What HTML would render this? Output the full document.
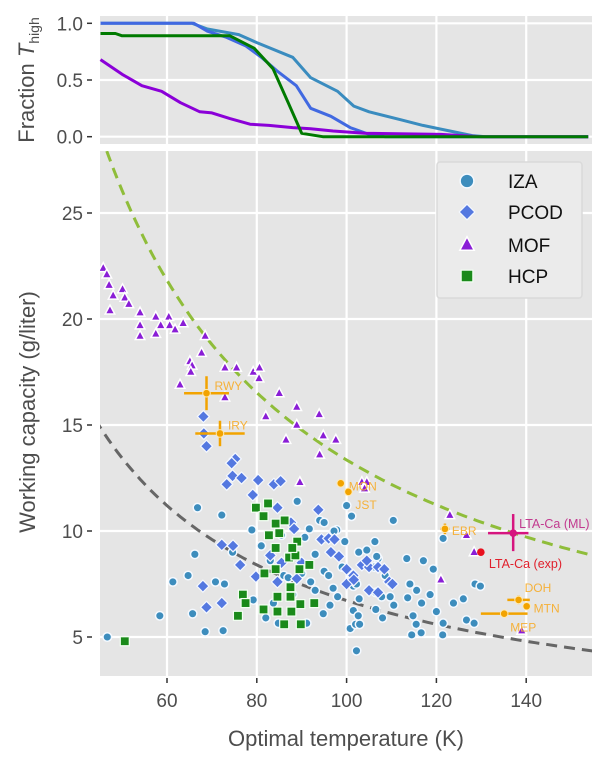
<!DOCTYPE html>
<html><head><meta charset="utf-8"><style>
html,body{margin:0;padding:0;background:#fff}
svg{display:block;font-family:"Liberation Sans",sans-serif}
</style></head><body>
<svg id="chart" width="600" height="761" viewBox="0 0 600 761" xmlns="http://www.w3.org/2000/svg">
<g id="topPanel"></g>
<g id="mainPanel"></g>
</svg>
<script>
// ---- data ----
const xTicks = [60, 80, 100, 120, 140];
const yTicksTop = [0, 0.5, 1.0];
const yTickLabelsTop = ["0.0", "0.5", "1.0"];
const yTicksMain = [5, 10, 15, 20, 25];
// top panel series: temperatures and fraction values
const izaLineT = [45.2, 65.6, 69, 76, 80, 88, 92, 98, 101.6, 105, 112, 117, 123, 128, 131, 153.8];
const izaLineF = [1.0, 1.0, 0.95, 0.9, 0.83, 0.7, 0.52, 0.4, 0.27, 0.22, 0.15, 0.1, 0.05, 0.01, 0, 0];
const pcodLineT = [45.2, 66, 69, 73, 77.6, 81, 84.5, 88.8, 92, 96.5, 100.8, 105, 108.5, 153.8];
const pcodLineF = [1.0, 1.0, 0.93, 0.88, 0.8, 0.7, 0.58, 0.45, 0.25, 0.18, 0.08, 0.02, 0, 0];
const hcpLineT = [45.2, 48.5, 50, 74, 79.4, 83.6, 87, 90, 94.7, 153.8];
const hcpLineF = [0.91, 0.91, 0.89, 0.89, 0.78, 0.6, 0.3, 0.03, 0, 0];
const mofLineT = [45.2, 50, 54.4, 58.8, 63, 67.3, 70, 74, 78.5, 82.7, 88, 92, 97, 104, 121, 125.6, 130, 153.8];
const mofLineF = [0.68, 0.55, 0.45, 0.4, 0.3, 0.22, 0.21, 0.16, 0.11, 0.1, 0.08, 0.07, 0.05, 0.03, 0.02, 0.01, 0, 0];
// scatter series
const izaT = [46.7,58.4,61.3,64.7,65.7,66.2,66.8,68.5,70.8,72.5,72.2,72.8,74.6,79.2,78.9,82,83.7,84.8,85.5,89,90.7,91.1,91.7,94,94.8,95,96.3,97.8,99.6,100,101.1,100.8,101.5,102,102.2,101.5,102.2,102.7,106.3,106.5,107,109.7,110.4,110.5,113.4,113.6,114.5,114.8,121.5,97.2,104.5,106.7,117.1,119.3,106.2,108.6,114.1,115.6,116.7,118.6,123.8,126,128.6,129.8,120,126.7,128.4,121.5,115.5,116.6,121.4,102.6,102.9,108,107.8,102.8,106.5,86,88,92,93,95,97,83,87,90,98,99,81,93,96];
const izaV = [5.0,6.0,7.6,7.9,6.1,8.9,11.1,5.25,7.6,5.3,10.75,7.5,9.0,6.75,10.05,5.9,6.6,5.65,9.8,11.4,9.7,5.65,10.1,10.5,6.1,10.4,6.5,10.05,9.5,11.2,10.7,5.4,6.25,5.6,4.35,7.4,7.5,9.0,9.5,6.3,8.7,6.9,10.5,6.5,8.7,6.85,5.1,6.0,9.65,10,9.1,8.8,8.6,8.2,8.3,7.9,7.5,7.2,6.6,7,6.6,6.8,7.5,7.4,6.2,5.8,5.65,5.65,5.6,5.2,5.1,6.0,5.6,5.9,6.9,6.8,7.1,7.9,7.0,7.6,8.9,8.1,7.3,8.6,7.8,8.0,6.9,8.3,9.3,7.2,7.9];
const pcodT = [73.3,74.6,76.6,80.3,83.8,85.3,79.1,93.7,84.6,87.6,88.3,72.2,74.7,76.3,79.8,68,68.8,72.2,83,85.5,87.5,90,94.4,96,96.5,100,101.5,103.4,105,107,109.5,105,84.6,88.9,68.1,68.2,68.8,75.2,74.4,97.3,98.3,100,101.6,104.5,107,108.4,110.2,107];
const pcodV = [12.2,12.6,12.5,12.4,12.2,12.35,11.7,11.0,11.1,10.4,10.1,9.35,9.3,8.4,7.85,7.4,6.4,6.6,8.85,8.5,8.9,8.5,9.6,9.65,9.0,7.5,7.9,8.4,8.3,8.3,7.6,7.2,7.6,7.75,15.4,14.6,14.0,13.4,13.2,9.6,8.8,8.2,7.7,8.6,8.3,8.2,7.5,7.1];
const mofT = [45.8,46.6,47.1,48,47.3,50.1,50.6,51.5,54,54,54,57.5,60.4,58.6,60.6,61.8,63.6,57.5,65.1,65.6,65.3,68.5,67.7,62.9,72.9,75.5,79.2,80.6,80.5,72.9,85,82,88.9,88.9,93.9,86.5,94.8,97.6,94,89.6,103.4,104.5,104,123,126.7,128.4,121,139];
const mofV = [22.4,22.1,21.6,21.1,20.4,21.4,21,20.7,20.3,19.7,19.2,20.1,20.1,19.7,19.7,19.5,19.8,19.3,18.0,17.8,17.5,19.2,18.4,16.9,17.7,17.7,17.5,17.7,17.2,16.3,16.5,15.4,15.85,15.0,15.5,14.3,14.5,14.3,13.6,12.3,12.3,12.3,12.0,10.75,9.8,9.0,7.7,5.3];
const hcpT = [50.6,76.9,77.5,75.8,81.5,79.8,82.5,81.5,84.2,86.2,82.7,85,84.2,87.2,88.6,81.7,84.2,89.5,91.7,87.5,84.6,87.5,89.7,92.8,84.6,87.7,86.1,89.8,89,87.9];
const hcpV = [4.8,7.0,6.6,6.0,6.3,11.1,11.3,10.7,10.35,10.5,9.8,9.9,9.2,8.75,8.85,8.0,8.2,8.2,8.4,7.35,6.9,6.9,6.55,6.6,6.2,6.2,5.6,5.6,9.5,9.2];
// annotated materials
const annNames = ["RWY","IRY","MON","JST","EBR","DOH","MTN","MEP"];
const annT = [68.8,71.8,98.7,100.4,121.9,138.3,140.1,135.1];
const annV = [16.5,14.6,12.25,11.85,10.1,6.75,6.45,6.1];
const annTErr = [5,5.5,0,0,1,2.5,0.8,5.2];
const annVErr = [0.8,0.6,0,0,0.25,0.2,0.15,0];

const NS = "http://www.w3.org/2000/svg";
function el(tag, attrs, parent){const e=document.createElementNS(NS,tag);for(const k in attrs)e.setAttribute(k,attrs[k]);parent.appendChild(e);return e;}
const X0=100, X1=592;
function xs(T){return 167+(T-60)*4.49;}
function ysTop(f){return 136.7-f*113.4;}
function ys(v){return 637-(v-5)*21.2;}
const topG=document.getElementById('topPanel'), mainG=document.getElementById('mainPanel');
const GRAY="#4d4d4d";

// ---- top panel ----
let bg=el('rect',{x:X0,y:16,width:X1-X0,height:128,fill:"#e5e5e5"},topG);


xTicks.forEach(t=>{
  const g=el('line',{x1:xs(t),x2:xs(t),y1:16,y2:144,stroke:"#fff","stroke-width":2.2},topG);
  
  
});
yTicksTop.forEach((t,i)=>{
  const g=el('line',{x1:X0,x2:X1,y1:ysTop(t),y2:ysTop(t),stroke:"#fff","stroke-width":2.2},topG);
  
  
  const tk=el('line',{x1:87,x2:92,y1:ysTop(t),y2:ysTop(t),stroke:"#333","stroke-width":1.5},topG);
  
  
  const tx=el('text',{x:83,y:ysTop(t)+7,"text-anchor":"end","font-size":19,fill:GRAY},topG);
  tx.textContent=yTickLabelsTop[i];
  
  
});
function drawLine(Ts,Fs,color,w,name){
  const d=Ts.map((t,i)=>(i?"L":"M")+xs(t).toFixed(1)+","+ysTop(Fs[i]).toFixed(1)).join("");
  const p=el('path',{d:d,fill:"none",stroke:color,"stroke-width":w,"stroke-linejoin":"round"},topG);
  
  
}
drawLine(izaLineT,izaLineF,"#3a8cbf",3,"iza-fraction-line");
drawLine(pcodLineT,pcodLineF,"#4169e1",3,"pcod-fraction-line");
drawLine(mofLineT,mofLineF,"#8b00d8",3,"mof-fraction-line");
drawLine(hcpLineT,hcpLineF,"#007a00",3,"hcp-fraction-line");
const tt=el('text',{transform:"translate(34,80) rotate(-90)","text-anchor":"middle","font-size":22,fill:GRAY},topG);
tt.innerHTML='Fraction <tspan font-style="italic">T</tspan><tspan font-size="14" dy="5">high</tspan>';



// ---- main panel ----
const PY0=151, PY1=676;
bg=el('rect',{x:X0,y:PY0,width:X1-X0,height:PY1-PY0,fill:"#e5e5e5"},mainG);


xTicks.forEach(t=>{
  const g=el('line',{x1:xs(t),x2:xs(t),y1:PY0,y2:PY1,stroke:"#fff","stroke-width":2.2},mainG);
  
  
  const tk=el('line',{x1:xs(t),x2:xs(t),y1:PY1+2,y2:PY1+7,stroke:"#333","stroke-width":1.5},mainG);
  
  
  const tx=el('text',{x:xs(t),y:PY1+31,"text-anchor":"middle","font-size":19,fill:GRAY},mainG);
  tx.textContent=t;
  
  
});
yTicksMain.forEach(t=>{
  const g=el('line',{x1:X0,x2:X1,y1:ys(t),y2:ys(t),stroke:"#fff","stroke-width":2.2},mainG);
  
  
  const tk=el('line',{x1:87,x2:92,y1:ys(t),y2:ys(t),stroke:"#333","stroke-width":1.5},mainG);
  
  
  const tx=el('text',{x:83,y:ys(t)+7,"text-anchor":"end","font-size":19,fill:GRAY},mainG);
  tx.textContent=t;
  
  
});
const clip=el('clipPath',{id:"cp"},mainG);
el('rect',{x:X0,y:PY0,width:X1-X0,height:PY1-PY0},clip);
const plot=el('g',{"clip-path":"url(#cp)"},mainG);


function curve(a,b,color,name){
  let d="";for(let T=44;T<=156;T+=1){d+=(T===44?"M":"L")+xs(T).toFixed(1)+","+ys(a/T+b).toFixed(1);}
  const p=el('path',{d:d,fill:"none",stroke:color,"stroke-width":3,"stroke-dasharray":"11,7"},plot);
  
  
}
curve(1271,0.64,"#8fbd3a","upper-bound-curve");
curve(672,0,"#666666","lower-bound-curve");
function marker(kind,x,y,parent,s){
  s=s||1;let m;
  if(kind==="circle") m=el('circle',{cx:x,cy:y,r:4.3*s,fill:"#3d8dbd",stroke:"#f4f9ff","stroke-width":1.5},parent);
  else if(kind==="diamond") m=el('path',{d:`M${x},${y-6*s}L${x+6*s},${y}L${x},${y+6*s}L${x-6*s},${y}Z`,fill:"#5478e0",stroke:"#f4f8ff","stroke-width":1.2},parent);
  else if(kind==="tri") m=el('path',{d:`M${x},${y-5.5*s}L${x+4.8*s},${y+3.5*s}L${x-4.8*s},${y+3.5*s}Z`,fill:"#8a1ed6",stroke:"#fff","stroke-width":1.5},parent);
  else m=el('rect',{x:x-4.5*s,y:y-4.5*s,width:9*s,height:9*s,fill:"#1a8a1a",stroke:"#f2fff2","stroke-width":1.2},parent);
  return m;
}
mofT.forEach((t,i)=>{const m=marker("tri",xs(t),ys(mofV[i]),plot);
  
  });
izaT.forEach((t,i)=>{const m=marker("circle",xs(t),ys(izaV[i]),plot);
  
  });
pcodT.forEach((t,i)=>{const m=marker("diamond",xs(t),ys(pcodV[i]),plot);
  
  });
hcpT.forEach((t,i)=>{const m=marker("square",xs(t),ys(hcpV[i]),plot);
  
  });
// annotations
const OR="#f2a300";
const labelDx=[8,8,8,7,7,6,7,6], labelDy=[-8,-9,2,12,1,-13,1,13];
annNames.forEach((n,i)=>{
  const x=xs(annT[i]), y=ys(annV[i]);
  const g=el('g',{},plot);
  
  
  if(annTErr[i]>0) el('line',{x1:xs(annT[i]-annTErr[i]),x2:xs(annT[i]+annTErr[i]),y1:y,y2:y,stroke:OR,"stroke-width":2.5},g);
  if(annVErr[i]>0) el('line',{x1:x,x2:x,y1:ys(annV[i]+annVErr[i]),y2:ys(annV[i]-annVErr[i]),stroke:OR,"stroke-width":2.5},g);
  el('circle',{cx:x,cy:y,r:3.8,fill:OR,stroke:"#ffe9b0","stroke-width":1},g);
  const tx=el('text',{x:x+labelDx[i],y:y+labelDy[i]+5,"font-size":12,fill:"#f5b13a"},g);
  tx.textContent=n;
});
// LTA-Ca ML
const MG="#d6157f";
let gm=el('g',{},plot);


const mx=xs(137.1), my=ys(9.9);
el('line',{x1:xs(131.5),x2:xs(140.5),y1:my,y2:my,stroke:MG,"stroke-width":2.5},gm);
el('line',{x1:mx,x2:mx,y1:ys(10.8),y2:ys(9.05),stroke:MG,"stroke-width":2.5},gm);
el('circle',{cx:mx,cy:my,r:3.8,fill:MG},gm);
let lt=el('text',{x:mx+6,y:my-5,"font-size":12.5,fill:"#c23a8f"},gm);lt.textContent="LTA-Ca (ML)";
let ge=el('g',{},plot);


const ex=xs(129.9), ey=ys(9.0);
el('circle',{cx:ex,cy:ey,r:3.8,fill:"#e8101e"},ge);
lt=el('text',{x:ex+8,y:ey+16,"font-size":12.5,fill:"#e0202c"},ge);lt.textContent="LTA-Ca (exp)";
// legend
const lg=el('g',{},mainG);


el('rect',{x:437,y:162,width:145,height:136,rx:3,fill:"#ebebeb",stroke:"#dadada","stroke-width":1.5},lg);
const legNames=["IZA","PCOD","MOF","HCP"], legKinds=["circle","diamond","tri","square"], legY=[181,212,245,276];
legNames.forEach((n,i)=>{
  const e=el('g',{},lg);
  
  
  marker(legKinds[i],467,legY[i],e,legKinds[i]==="circle"?1.6:(legKinds[i]==="tri"?1.5:1.3));
  const t=el('text',{x:508,y:legY[i]+7,"font-size":19,fill:"#111"},e);t.textContent=n;
});
// axis titles
const xt=el('text',{x:346,y:746,"text-anchor":"middle","font-size":22,fill:GRAY},mainG);
xt.textContent="Optimal temperature (K)";


const yt=el('text',{transform:"translate(35,412) rotate(-90)","text-anchor":"middle","font-size":22,fill:GRAY},mainG);
yt.textContent="Working capacity (g/liter)";


</script>
</body></html>
